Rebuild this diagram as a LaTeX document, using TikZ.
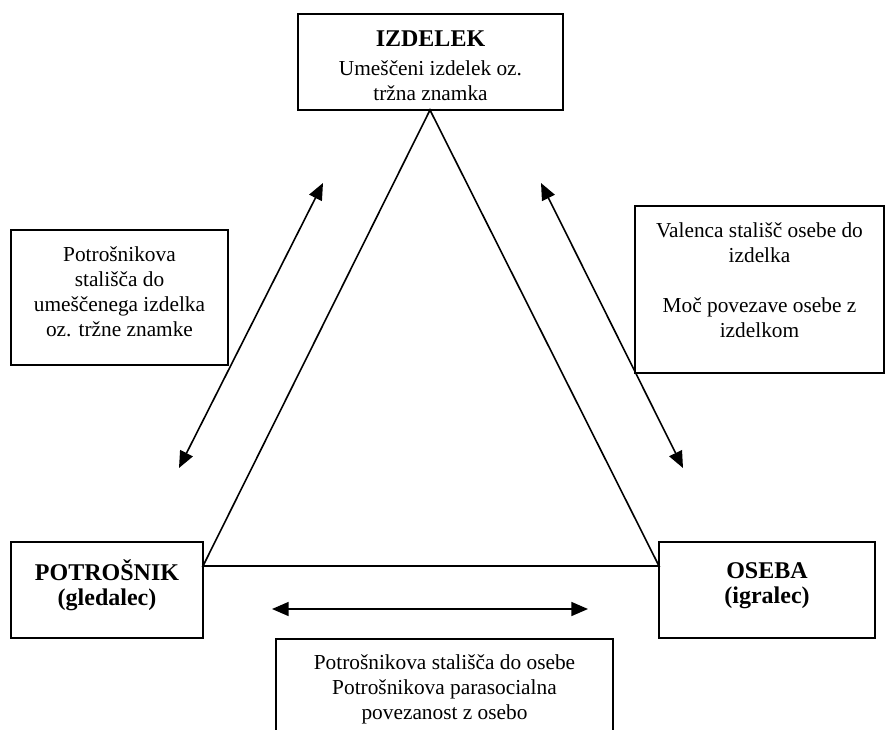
\documentclass[tikz,border=0pt]{standalone}
\usepackage{fontspec}
\setmainfont{Liberation Serif}
\usetikzlibrary{arrows.meta}
\begin{document}
\begin{tikzpicture}[x=0.75pt,y=-0.75pt,
  box/.style={draw=black, line width=1.4pt, inner sep=0pt},
  txt/.style={align=center, inner sep=0pt, font=\fontsize{16}{18.8}\selectfont},
  edge/.style={line width=1.2pt},
  dbl/.style={line width=1.2pt, {Triangle[length=12.5pt,width=10.5pt]}-{Triangle[length=12.5pt,width=10.5pt]}}
]
\newcommand{\hd}[1]{{\fontsize{18}{21}\selectfont\bfseries #1}}
\useasboundingbox (0,0) rectangle (886,729);
\clip (0,0) rectangle (886,729);

% boxes
\node[box, minimum width=198.75pt, minimum height=72pt] (izd) at (430.5,62) {};
\node[box, minimum width=162.75pt, minimum height=101.25pt] (left) at (119.5,297.5) {};
\node[box, minimum width=186.75pt, minimum height=125.25pt] (right) at (759.5,289.5) {};
\node[box, minimum width=144pt, minimum height=72pt] (potr) at (107,590) {};
\node[box, minimum width=162pt, minimum height=72pt] (oseba) at (767,590) {};
\node[box, anchor=north, minimum width=252.75pt, minimum height=120pt] (bottom) at (444.5,638) {};

% texts
\node[txt] (izdT) at (430.5,65.5) {\hd{IZDELEK}\\[3pt]Umeščeni izdelek oz.\\tržna znamka};
\node[txt] (leftT) at (119.5,291.5) {Potrošnikova\\stališča do\\umeščenega izdelka\\oz. tržne znamke};
\node[txt] (rightT) at (759.5,280) {Valenca stališč osebe do\\izdelka\\[18.8pt]Moč povezave osebe z\\izdelkom};
\node[txt] (potrT) at (107,585) {\hd{POTROŠNIK}\\\hd{(gledalec)}};
\node[txt] (osebaT) at (767,586) {\hd{OSEBA}\\\hd{(igralec)}};
\node[txt] (bottomT) at (444.5,689.5) {Potrošnikova stališča do osebe\\Potrošnikova parasocialna\\povezanost z osebo};

% triangle
\coordinate (apex) at (430,110);
\coordinate (lv) at (203,566);
\coordinate (rv) at (659,566);
\draw[edge] (lv) -- (apex) -- (rv) -- cycle;

% arrows
\coordinate (a1) at (323,183);
\coordinate (a2) at (179,468);
\coordinate (b1) at (541,183);
\coordinate (b2) at (683,468);
\coordinate (c1) at (272,609);
\coordinate (c2) at (588,609);
\draw[dbl] (a2) -- (a1);
\draw[dbl] (b1) -- (b2);
\draw[dbl] (c1) -- (c2);
\end{tikzpicture}
\end{document}
